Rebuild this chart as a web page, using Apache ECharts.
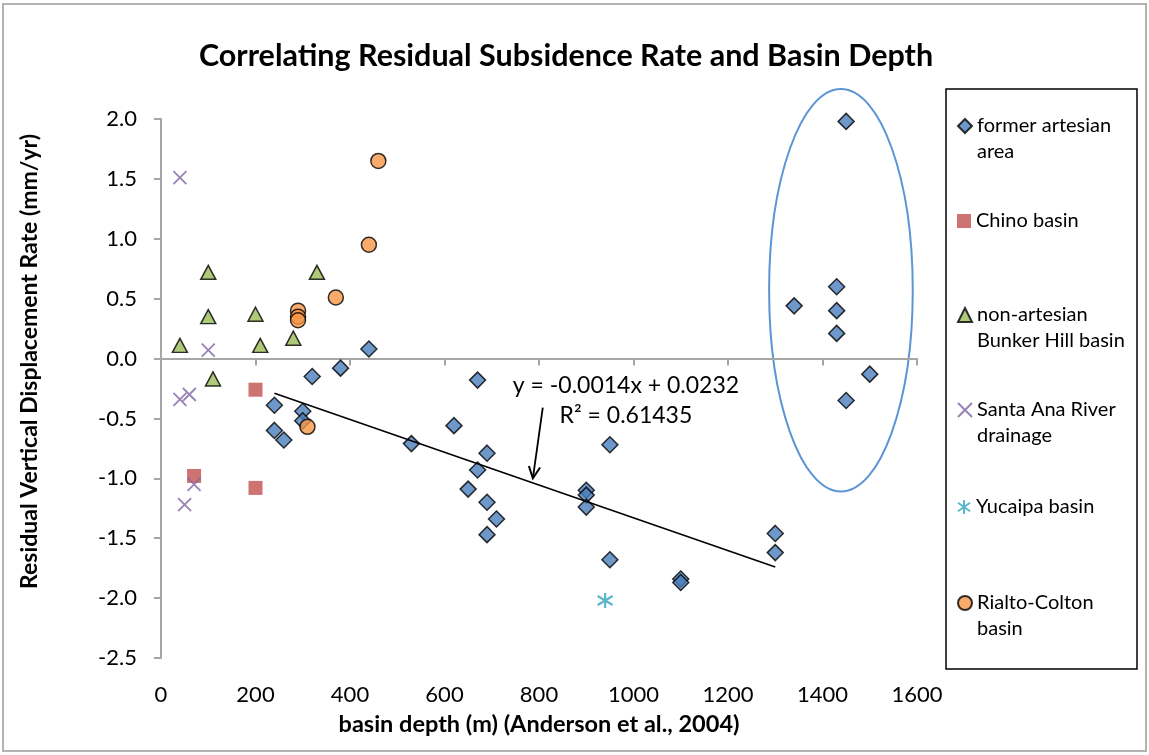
<!DOCTYPE html>
<html><head><meta charset="utf-8">
<script src="https://cdn.jsdelivr.net/npm/echarts@6/dist/echarts.min.js"></script>
<style>html,body{margin:0;padding:0;background:#fff;}#c{width:1149px;height:755px;}</style>
</head><body><div id="c"></div>
<script>
// ---- data (basin depth m, residual rate mm/yr) ----
const formerArtesian = [
  [1450,1.98],[1340,0.44],[1430,0.60],[1430,0.40],[1430,0.21],[1500,-0.13],[1450,-0.35],
  [1300,-1.46],[1300,-1.62],[1100,-1.84],[1100,-1.87],[950,-1.68],[950,-0.72],
  [900,-1.10],[900,-1.14],[900,-1.24],
  [690,-0.79],[670,-0.93],[650,-1.09],[690,-1.20],[710,-1.34],[690,-1.47],[670,-0.18],[620,-0.56],[530,-0.71],
  [440,0.08],[380,-0.08],[320,-0.15],[240,-0.39],[240,-0.60],[260,-0.68],[300,-0.44],[300,-0.52]
];
const chinoBasin = [[200,-0.26],[70,-0.98],[200,-1.08]];
const bunkerHill = [[40,0.11],[100,0.72],[100,0.35],[200,0.37],[210,0.11],[280,0.17],[330,0.72],[110,-0.17]];
const santaAna = [[40,1.51],[100,0.07],[40,-0.34],[60,-0.30],[70,-1.05],[50,-1.22]];
const yucaipa = [[940,-2.02]];
const rialtoColton = [[460,1.65],[440,0.95],[370,0.51],[290,0.40],[290,0.35],[290,0.32],[310,-0.57]];
const trendLine = [[240,-0.29],[1300,-1.74]];
const seriesNames = ['former artesian area','Chino basin','non-artesian Bunker Hill basin','Santa Ana River drainage','Yucaipa basin','Rialto-Colton basin'];
const legendTexts = ['\nformer artesian\narea','Chino basin','\nnon-artesian\nBunker Hill basin','\nSanta Ana River\ndrainage','Yucaipa basin','\nRialto-Colton\nbasin'];
const xAxisRange = [0,1600,200];
const yAxisRange = [-2.5,2.0,0.5];
const equationText = 'y = -0.0014x + 0.0232\nR\u00b2 = 0.61435';
const equationAnchor = [984,-0.35];
const arrowFrom = [808,-0.41];
const arrowTo = [787,-1.0];
const ellipseCenter = [1439,0.57];
const ellipseRadius = [152,1.68];

const FONT = 'Lato';
const chart = echarts.init(document.getElementById('c'));

const legendTops = [87,208,276,371,494,564];
const legends = seriesNames.map((n,i)=>({
  data:[n], orient:'vertical', left:957, top:legendTops[i], padding:0,
  itemWidth:14, itemHeight:14, formatter:legendTexts[i],
  textStyle:{fontFamily:FONT,fontSize:20,color:'#000',lineHeight:26}
}));

const axisLbl = {fontFamily:FONT,fontSize:22,color:'#000'};
chart.setOption({
  animation:false,
  title:{text:'Correlating Residual Subsidence Rate and Basin Depth',left:561,top:36,textAlign:'center',
    textStyle:{fontFamily:FONT,fontWeight:'bold',fontSize:30.5,color:'#000'}},
  legend:legends,
  grid:{left:161,right:232,top:119,bottom:97},
  xAxis:{type:'value',min:xAxisRange[0],max:xAxisRange[1],interval:xAxisRange[2],
    name:'basin depth (m) (Anderson et al., 2004)',nameLocation:'middle',nameGap:54,
    nameTextStyle:{fontFamily:FONT,fontWeight:'bold',fontSize:23.5,color:'#000'},
    axisLine:{lineStyle:{color:'#a6a6a6',width:2}},
    axisTick:{show:true,length:7,lineStyle:{color:'#a6a6a6',width:2}},
    axisLabel:{...axisLbl,margin:26,formatter:v=>String(v)},splitLine:{show:false}},
  yAxis:{type:'value',min:yAxisRange[0],max:yAxisRange[1],interval:yAxisRange[2],
    name:'Residual Vertical Displacement Rate (mm/yr)',nameLocation:'middle',nameGap:120,nameRotate:90,
    nameTextStyle:{fontFamily:FONT,fontWeight:'bold',fontSize:23,color:'#000',padding:[0,0,0,54]},
    axisLine:{show:true,lineStyle:{color:'#a6a6a6',width:2}},
    axisTick:{show:true,length:7,lineStyle:{color:'#a6a6a6',width:2}},
    axisLabel:{...axisLbl,margin:24,formatter:v=>v.toFixed(1)},splitLine:{show:false}},
  series:[
    {name:seriesNames[0],type:'scatter',data:formerArtesian,symbol:'diamond',symbolSize:16,
      itemStyle:{color:'#4a7ebb',borderColor:'#000',borderWidth:1.5}},
    {name:seriesNames[1],type:'scatter',data:chinoBasin,symbol:'rect',symbolSize:14,
      itemStyle:{color:'#c0504d'}},
    {name:seriesNames[2],type:'scatter',data:bunkerHill,symbol:'triangle',symbolSize:[15,14],
      itemStyle:{color:'#9bbb59',borderColor:'#000',borderWidth:1.5}},
    {name:seriesNames[3],type:'scatter',data:santaAna,symbol:'path://M0,0L10,10M10,0L0,10',symbolSize:13,
      itemStyle:{color:'#8064a2',borderColor:'#8064a2',borderWidth:1.8}},
    {name:seriesNames[4],type:'scatter',data:yucaipa,symbol:'path://M5,0L5,10M0.7,2L9.3,8M9.3,2L0.7,8',symbolSize:15,
      itemStyle:{color:'#31a5bd',borderColor:'#31a5bd',borderWidth:2.2}},
    {name:seriesNames[5],type:'scatter',data:rialtoColton,symbol:'circle',symbolSize:15,
      itemStyle:{color:'#f79646',borderColor:'#000',borderWidth:1.5}},
    {name:'trend',type:'line',data:trendLine,symbol:'none',z:5,silent:true,
      lineStyle:{color:'#000',width:1.6}}
  ]
});

function px(p){return chart.convertToPixel({gridIndex:0},p);}
const c = px(ellipseCenter);
const rx = px([ellipseCenter[0]+ellipseRadius[0],ellipseCenter[1]])[0]-c[0];
const ry = c[1]-px([ellipseCenter[0],ellipseCenter[1]+ellipseRadius[1]])[1];
const a0 = px(arrowFrom), a1 = px(arrowTo);
const ang = Math.atan2(a0[1]-a1[1],a0[0]-a1[0]);
const hl = 13, ha = 0.45;
const h1 = [a1[0]+hl*Math.cos(ang+ha),a1[1]+hl*Math.sin(ang+ha)];
const h2 = [a1[0]+hl*Math.cos(ang-ha),a1[1]+hl*Math.sin(ang-ha)];
const eq = px(equationAnchor);
chart.setOption({graphic:[
  {type:'rect',shape:{x:3,y:4,width:1143,height:747},style:{fill:'none',stroke:'#b3b3b3',lineWidth:2},silent:true},
  {type:'rect',shape:{x:946,y:89,width:191,height:580},style:{fill:'none',stroke:'#000',lineWidth:1.5},silent:true},
  {type:'ellipse',shape:{cx:c[0],cy:c[1],rx:rx,ry:ry},style:{fill:'none',stroke:'#5b95d5',lineWidth:2},silent:true},
  {type:'polyline',shape:{points:[a0,a1]},style:{stroke:'#000',lineWidth:1.8,fill:'none'},silent:true},
  {type:'polyline',shape:{points:[h1,a1,h2]},style:{stroke:'#000',lineWidth:2,fill:'none'},silent:true},
  {type:'text',x:eq[0],y:eq[1],style:{text:equationText,fontFamily:FONT,fontSize:23,fill:'#000',
    align:'center',verticalAlign:'middle',lineHeight:29.5},silent:true}
]});
</script></body></html>
